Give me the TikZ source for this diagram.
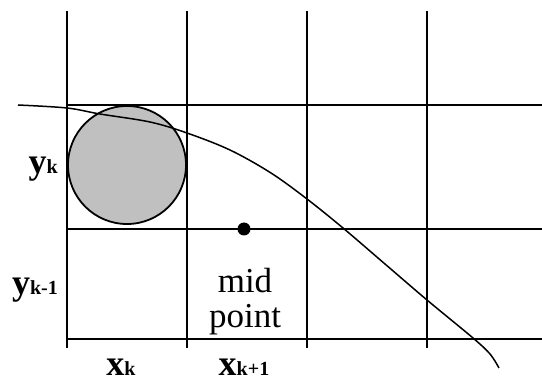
\documentclass[tikz,border=0pt]{standalone}
\usepackage{fontspec}
\setmainfont{Liberation Serif}
\begin{document}
\begin{tikzpicture}[x=1pt,y=-1pt,
  gridline/.style={line width=1.8pt,black},
  curveline/.style={line width=1.5pt,black},
  axlabel/.style={inner sep=0pt,text depth=0pt,font=\fontsize{36}{36}\selectfont\bfseries},
  midtext/.style={inner sep=0pt,align=center,font=\fontsize{35}{35}\selectfont}]
\useasboundingbox (0,0) rectangle (542,385);
\fill[white] (0,0) rectangle (542,385);
% vertical grid lines
\foreach \i/\x in {1/67,2/187,3/307,4/427}{
  \coordinate (vt\i) at (\x,11);
  \coordinate (vb\i) at (\x,348);
  \draw[gridline] (vt\i) -- (vb\i);
}
% horizontal grid lines
\foreach \i/\y in {1/105,2/229,3/339}{
  \coordinate (hl\i) at (67,\y);
  \coordinate (hr\i) at (542,\y);
  \draw[gridline] (hl\i) -- (hr\i);
}
% shaded pixel circle
\node[circle,draw=black,line width=1.8pt,fill={rgb,255:red,192;green,192;blue,192},
  minimum size=118pt,inner sep=0pt] (pix) at (127,165) {};
% curve
\draw[curveline] plot[smooth,tension=0.55] coordinates
  {(18,105) (67,108) (100,114) (150,122) (187,133) (230,150) (271,173) (307,199)
   (343,228) (385,264) (427,300) (473,338) (490,354) (499,368)};
% midpoint dot
\node[circle,fill=black,inner sep=0pt,minimum size=13pt] (mid) at (244,229) {};
% labels
\node[axlabel,anchor=base east] (yk) at (58,174)
  {y{\fontsize{20}{20}\selectfont k}};
\node[axlabel,anchor=base east] (yk1) at (58,295)
  {y{\fontsize{20}{20}\selectfont k-1}};
\node[axlabel,anchor=base] (xk) at (121,376)
  {x{\fontsize{20}{20}\selectfont k}};
\node[axlabel,anchor=base] (xk1) at (244,376)
  {x{\fontsize{20}{20}\selectfont k+1}};
\node[midtext,anchor=base] (mp) at (245,328) {mid\\point};
\end{tikzpicture}
\end{document}
